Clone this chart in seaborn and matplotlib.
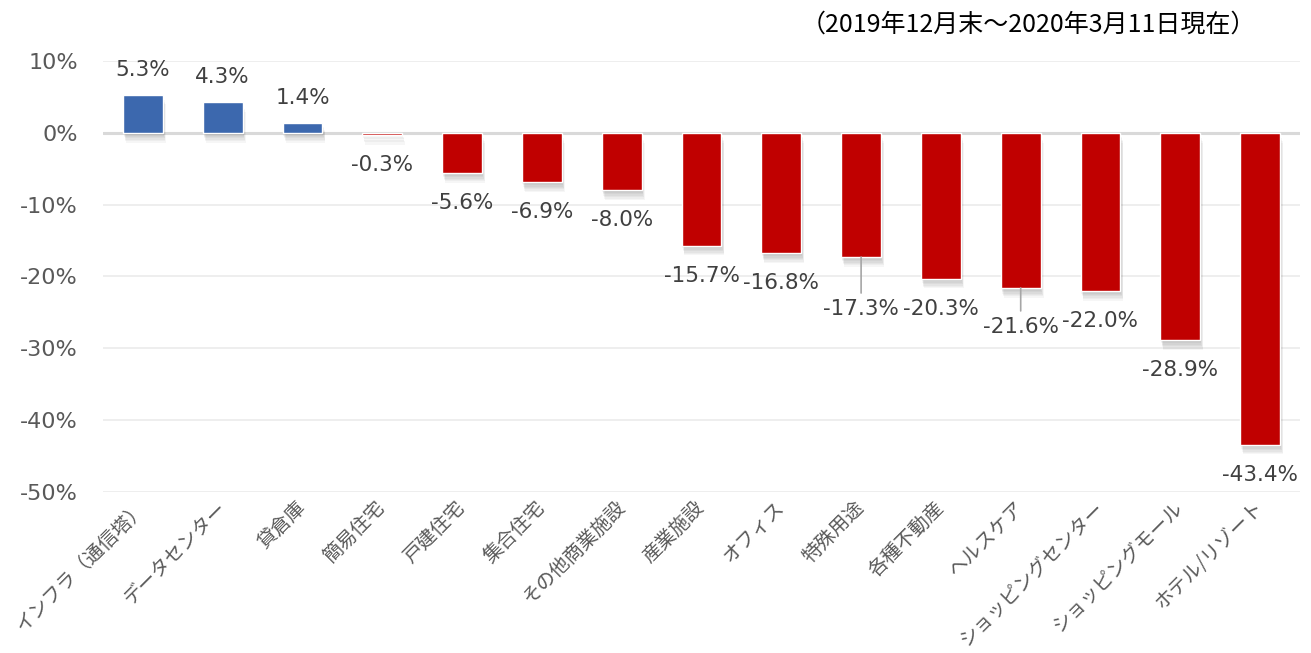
import matplotlib
matplotlib.use("Agg")
import matplotlib.pyplot as plt
import matplotlib.patheffects as pe
from matplotlib.ticker import FuncFormatter
import seaborn as sns

# ===============================
# Property type returns, end of Dec 2019 -> 11 Mar 2020
# ===============================

categories = [
    "インフラ（通信塔）", "データセンター", "貸倉庫", "簡易住宅", "戸建住宅",
    "集合住宅", "その他商業施設", "産業施設", "オフィス", "特殊用途",
    "各種不動産", "ヘルスケア", "ショッピングセンター", "ショッピングモール",
    "ホテル/リゾート",
]
returns = [5.3, 4.3, 1.4, -0.3, -5.6, -6.9, -8.0, -15.7, -16.8, -17.3,
           -20.3, -21.6, -22.0, -28.9, -43.4]
y_ticks = [10, 0, -10, -20, -30, -40, -50]
note = "（2019年12月末～2020年3月11日現在）"

BLUE = "#3c68ae"
RED = "#c00000"

sns.set_style("white")
plt.rcParams["font.family"] = ["DejaVu Sans", "Noto Sans CJK JP"]

fig = plt.figure(figsize=(13.11, 6.53), dpi=100)
ax = fig.add_axes([0.0786, 0.2466, 0.9130, 0.66])

colors = [BLUE if v > 0 else RED for v in returns]
sns.barplot(x=categories, y=returns, hue=categories, palette=colors,
            legend=False, width=0.5, saturation=1, ax=ax, zorder=2)

# soft shadow under the bars: many faint copies to fake a blur
shadow = [pe.SimplePatchShadow(offset=(0.3 * k, -k), shadow_rgbFace="black",
                               alpha=0.035) for k in range(7, 0, -1)]
for bar in ax.patches:
    bar.set_path_effects(shadow + [pe.Normal()])

ax.set_ylim(-50, 10)
ax.set_xlim(-0.5, len(categories) - 0.5)
ax.set_yticks(y_ticks)
ax.yaxis.set_major_formatter(FuncFormatter(lambda v, _: f"{v:.0f}%"))
ax.grid(axis="y", color="#ebebeb", linewidth=1.2, zorder=0)
ax.axhline(0, color="#d9d9d9", linewidth=2.2, zorder=1.5)
sns.despine(ax=ax, left=True, bottom=True)

ax.tick_params(axis="y", length=0, pad=18, labelsize=16, labelcolor="#595959")
ax.tick_params(axis="x", length=0, pad=9, labelsize=14, labelcolor="#595959")
for lbl in ax.get_xticklabels():
    lbl.set_rotation(45)
    lbl.set_ha("right")
    lbl.set_va("center")
    lbl.set_rotation_mode("anchor")
    lbl.set_family(["Noto Sans CJK JP", "DejaVu Sans"])

# value labels (a few are pushed further down with a leader line)
push_down = {9: 52, 11: 39}
for i, v in enumerate(returns):
    txt = f"{v:.1f}%"
    if v > 0:
        ax.annotate(txt, xy=(i, v), xytext=(0, 25), textcoords="offset pixels",
                    ha="center", va="center", fontsize=15.5, color="#404040")
    elif i in push_down:
        ax.annotate(txt, xy=(i, v), xytext=(0, -push_down[i]),
                    textcoords="offset pixels", ha="center", va="center",
                    fontsize=15.5, color="#404040",
                    arrowprops=dict(arrowstyle="-", color="#a6a6a6", lw=1.2,
                                    shrinkA=2, shrinkB=0))
    else:
        ax.annotate(txt, xy=(i, v), xytext=(0, -30), textcoords="offset pixels",
                    ha="center", va="center", fontsize=15.5, color="#404040")

ax.set_xlabel("")
ax.set_ylabel("")

fig.text(0.958, 0.962, note, ha="right", va="center", fontsize=18,
         color="black", family=["Noto Sans CJK JP", "DejaVu Sans"])

plt.savefig("out.png", dpi=100)
plt.close()
